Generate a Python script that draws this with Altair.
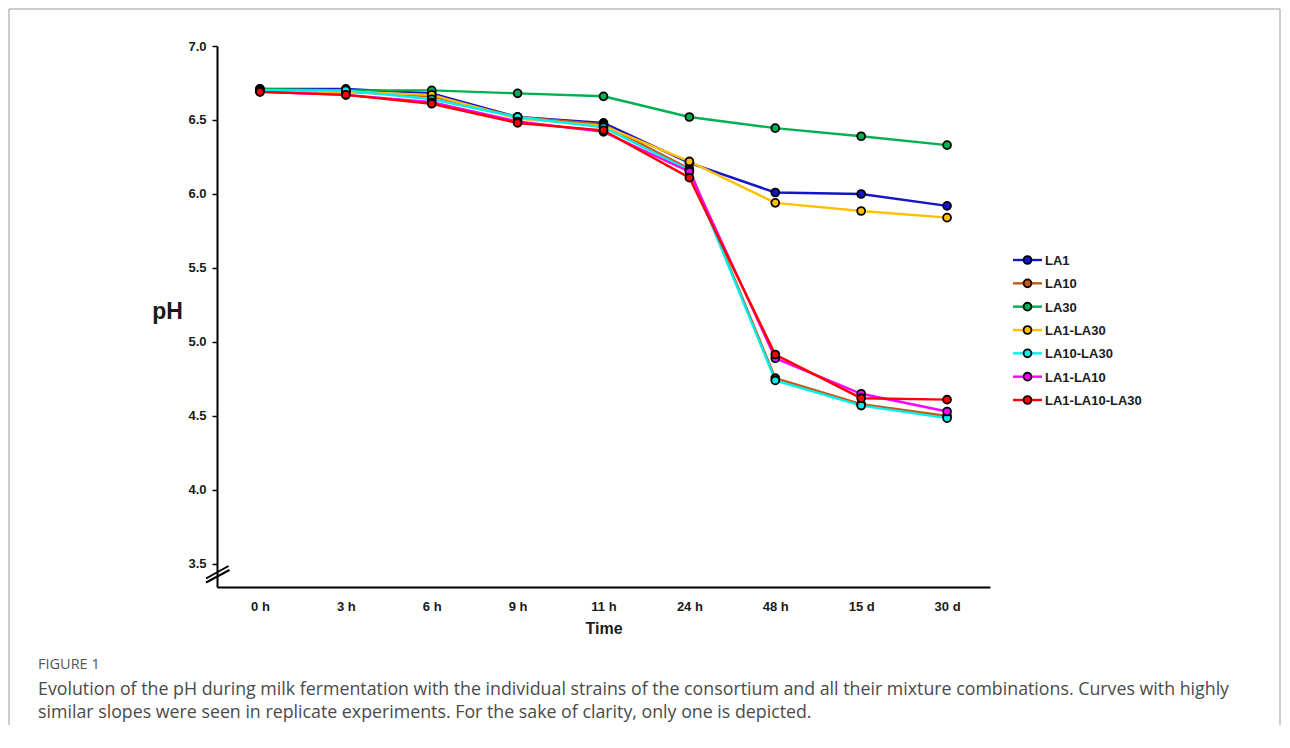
import altair as alt
import pandas as pd

times = ["0 h", "3 h", "6 h", "9 h", "11 h", "24 h", "48 h", "15 d", "30 d"]
series = ["LA1", "LA10", "LA30", "LA1-LA30", "LA10-LA30", "LA1-LA10", "LA1-LA10-LA30"]
colors = ["#1414C8", "#C65911", "#00B050", "#FFC000", "#00F0F0", "#FF00FF", "#FF0000"]

ph_LA1 = [6.71, 6.71, 6.68, 6.52, 6.48, 6.21, 6.01, 6.00, 5.92]
ph_LA10 = [6.70, 6.69, 6.66, 6.52, 6.47, 6.17, 4.755, 4.58, 4.50]
ph_LA30 = [6.71, 6.70, 6.70, 6.68, 6.66, 6.52, 6.445, 6.39, 6.33]
ph_LA1_LA30 = [6.70, 6.69, 6.67, 6.51, 6.46, 6.22, 5.94, 5.885, 5.84]
ph_LA10_LA30 = [6.70, 6.70, 6.64, 6.52, 6.45, 6.16, 4.74, 4.57, 4.485]
ph_LA1_LA10 = [6.69, 6.67, 6.62, 6.49, 6.42, 6.15, 4.89, 4.65, 4.53]
ph_LA1_LA10_LA30 = [6.69, 6.67, 6.61, 6.48, 6.43, 6.11, 4.915, 4.62, 4.61]

y_ticks = [3.5, 4.0, 4.5, 5.0, 5.5, 6.0, 6.5, 7.0]

caption_head = "FIGURE 1"
caption_1 = ("Evolution of the pH during milk fermentation with the individual strains of the "
             "consortium and all their mixture combinations. Curves with highly")
caption_2 = ("similar slopes were seen in replicate experiments. For the sake of clarity, "
             "only one is depicted.")

all_values = [ph_LA1, ph_LA10, ph_LA30, ph_LA1_LA30, ph_LA10_LA30, ph_LA1_LA10, ph_LA1_LA10_LA30]
rows = []
for s, vals in zip(series, all_values):
    for t, v in zip(times, vals):
        rows.append({"time": t, "series": s, "ph": v})
df = pd.DataFrame(rows)

FONT = "Liberation Sans"
color_scale = alt.Scale(domain=series, range=colors)

x_axis = alt.Axis(
    title="Time", labelAngle=0, ticks=False, tickSize=0, labelPadding=13,
    domainColor="black", domainWidth=2,
    labelFont=FONT, labelFontWeight="bold", labelFontSize=13, labelColor="#1a1a1a",
    titleFont=FONT, titleFontWeight="bold", titleFontSize=16, titleColor="#1a1a1a",
    titleY=46, titleBaseline="alphabetic",
)
y_axis = alt.Axis(
    title="pH", values=y_ticks, format=".1f", grid=False,
    tickSize=5, tickWidth=1.5, tickColor="black",
    domainColor="black", domainWidth=2, labelPadding=6,
    labelFont=FONT, labelFontWeight="bold", labelFontSize=13, labelColor="#1a1a1a",
    titleFont=FONT, titleFontWeight="bold", titleFontSize=23, titleColor="#1a1a1a",
    titleAngle=0, titleX=-50, titleY=272, titleAlign="center",
    titleBaseline="alphabetic",
)
x_scale = alt.Scale(type="point", padding=0.5)
y_scale = alt.Scale(domain=[3.344, 7.0], nice=False, zero=False)

lines = alt.Chart(df).mark_line(strokeWidth=2.4).encode(
    x=alt.X("time:N", sort=times, scale=x_scale, axis=x_axis),
    y=alt.Y("ph:Q", scale=y_scale, axis=y_axis),
    color=alt.Color("series:N", scale=color_scale, legend=None),
    detail="series:N",
)

points = alt.Chart(df).mark_point(
    filled=True, size=62, stroke="black", strokeWidth=1.8, opacity=1
).encode(
    x=alt.X("time:N", sort=times, scale=x_scale, axis=x_axis),
    y=alt.Y("ph:Q", scale=y_scale, axis=y_axis),
    fill=alt.Fill("series:N", scale=color_scale, legend=None),
)

# axis break marks
brk = pd.DataFrame({"k": [0]})
break1 = alt.Chart(brk).mark_rule(color="black", strokeWidth=2).encode(
    x=alt.value(-11), y=alt.value(536.5), x2=alt.value(12.5), y2=alt.value(524)
)
break2 = alt.Chart(brk).mark_rule(color="black", strokeWidth=2).encode(
    x=alt.value(-11), y=alt.value(532.5), x2=alt.value(11.5), y2=alt.value(520)
)

main = alt.layer(lines, points, break1, break2)

# manual legend
leg = pd.DataFrame({"series": series, "idx": list(range(len(series)))})
leg_y = alt.Y("idx:Q", scale=alt.Scale(domain=[0, 6], range=[214, 354]), axis=None)
leg_line = alt.Chart(leg).mark_rule(strokeWidth=2.4).encode(
    x=alt.value(796), x2=alt.value(825), y=leg_y,
    color=alt.Color("series:N", scale=color_scale, legend=None),
)
leg_pt = alt.Chart(leg).mark_point(
    filled=True, size=62, stroke="black", strokeWidth=1.8, opacity=1
).encode(
    x=alt.value(810.5), y=leg_y,
    fill=alt.Fill("series:N", scale=color_scale, legend=None),
)
leg_txt = alt.Chart(leg).mark_text(
    align="left", baseline="middle", font=FONT, fontWeight="bold", fontSize=13,
    color="#1a1a1a", dy=1,
).encode(x=alt.value(828), y=leg_y, text="series:N")

legend = alt.layer(leg_line, leg_pt, leg_txt)

# caption and frame
cap = pd.DataFrame({"a": [caption_head], "b": [caption_1], "c": [caption_2]})
cap_head = alt.Chart(cap).mark_text(
    align="left", baseline="alphabetic", font="Open Sans", fontSize=14.5, color="#555555"
).encode(x=alt.value(-179), y=alt.value(623), text="a:N")
cap_l1 = alt.Chart(cap).mark_text(
    align="left", baseline="alphabetic", font="Open Sans", fontSize=17.8, color="#4a4a4a"
).encode(x=alt.value(-179), y=alt.value(649), text="b:N")
cap_l2 = alt.Chart(cap).mark_text(
    align="left", baseline="alphabetic", font="Open Sans", fontSize=17.8, color="#4a4a4a"
).encode(x=alt.value(-179), y=alt.value(672), text="c:N")
frame = alt.Chart(brk).mark_rect(
    fill="white", fillOpacity=0, stroke="#9a9a9a", strokeWidth=1
).encode(x=alt.value(-208), x2=alt.value(1063), y=alt.value(-37), y2=alt.value(720))

extras = alt.layer(frame, cap_head, cap_l1, cap_l2)

chart = alt.layer(main, legend, extras).resolve_scale(
    y="independent"
).properties(
    width=773, height=541,
    autosize=alt.AutoSizeParams(type="none"),
    padding={"left": 209, "top": 38, "right": 291, "bottom": 138},
    background="white",
).configure_view(stroke=None)

chart.save("out.html", embed_options={"renderer": "svg", "actions": False})
